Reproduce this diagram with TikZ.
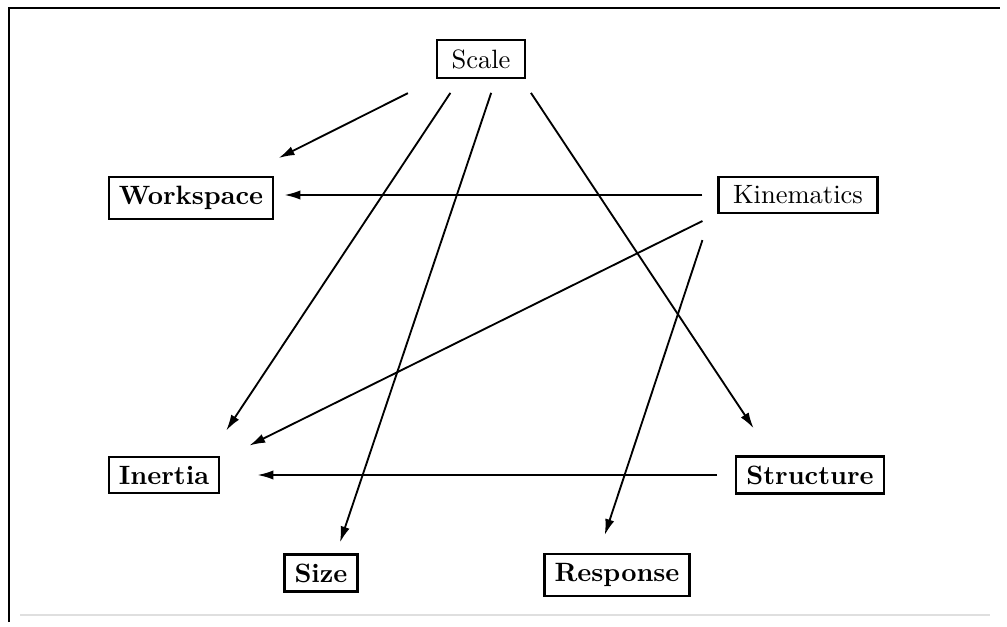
\documentclass[tikz,border=0pt]{standalone}
\usetikzlibrary{arrows.meta}
\begin{document}
\begin{tikzpicture}[x=0.377pt, y=-0.377pt,
    box/.style={draw, line width=0.85pt, inner xsep=3.8pt, inner ysep=3.4pt, font=\bfseries},
    plainbox/.style={box, inner xsep=5.5pt, font=\normalfont},
    arr/.style={line width=0.7pt, -{Latex[length=6pt,width=3.5pt]}}]
  \useasboundingbox (0,0) rectangle (1007,626);
  % frame
  \draw[line width=0.85pt] (9,622) -- (9,8) -- (1000,8);
  \draw[gray!25, line width=0.5pt] (20,615) -- (990,615);
  % top row
  \node[plainbox] (Scale) at (481,59) {Scale};
  \node[box] (Workspace) at (191,198) {Workspace};
  \node[plainbox] (Kinematics) at (798,195) {Kinematics};
  % middle row
  \node[box] (Inertia) at (164,475) {Inertia};
  \node[box] (Structure) at (810,475) {Structure};
  % bottom row
  \node[box] (Size) at (321,573) {Size};
  \node[box] (Response) at (617,575) {Response};
  % from scale
  \draw[arr, shorten <=12.1pt, shorten >=15.2pt] (Scale.204) -- (Workspace.23);
  \draw[arr, shorten <=6.4pt, shorten >=11.4pt] (Scale.223) -- (Inertia.23);
  \draw[arr, shorten <=5.6pt, shorten >=4.4pt] (Scale.307) -- (Size.52);
  \draw[arr, shorten <=6.4pt, shorten >=12.3pt] (Scale.334) -- (Structure.153);
  % from kinematics
  \draw[arr, shorten <=5.7pt, shorten >=3.8pt] (Kinematics.west) -- (Workspace.east |- Kinematics.west);
  \draw[arr, shorten <=6.3pt, shorten >=12.2pt] (Kinematics.193) -- (Inertia.15);
  \draw[arr, shorten <=17.9pt, shorten >=7.2pt] (Kinematics.west) -- (Response.130);
  % from structure
  \draw[arr, shorten <=6.8pt, shorten >=14pt] (Structure.west) -- (Inertia.east);
\end{tikzpicture}
\end{document}
